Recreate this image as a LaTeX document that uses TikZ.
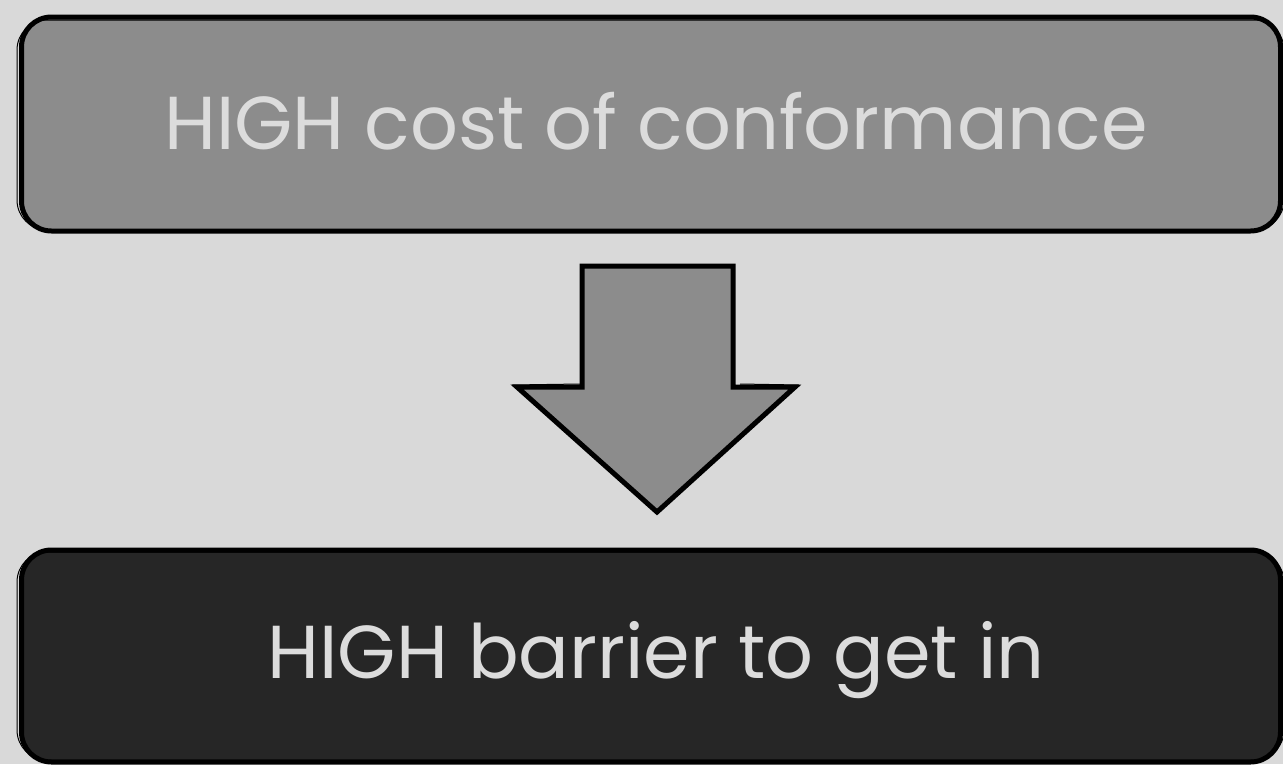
\documentclass[tikz,border=0pt]{standalone}
\usepackage{fontspec}
\setmainfont{Poppins}
\definecolor{bgc}{HTML}{D9D9D9}
\definecolor{topfill}{HTML}{8C8C8C}
\definecolor{botfill}{HTML}{262626}
\definecolor{txt}{HTML}{DCDCDC}
\begin{document}
\begin{tikzpicture}[x=1pt,y=-1pt,
  box/.style={draw=black, line width=5pt, rounded corners=30pt, minimum width=1259pt, inner sep=0pt, text=txt, font=\fontsize{75}{85}\selectfont},
  sketch/.style={draw=black, line width=1pt, rounded corners=30pt},
  blockarrow/.style={draw=black, line width=5pt, fill=topfill, line join=miter}]
\fill[bgc] (0,0) rectangle (1283,764);
\useasboundingbox (0,0) rectangle (1283,764);
% top box
\node[box, fill=topfill, minimum height=214pt] (top) at (651,124) {};
\node[text=txt, font=\fontsize{75}{85}\selectfont] (toptext) at (656,121) {HIGH cost of conformance};
\draw[sketch] (17,20) rectangle (1284,230);
% arrow
\coordinate (a1) at (582,266);
\coordinate (a2) at (733,266);
\coordinate (a3) at (733,387);
\coordinate (a4) at (795,387);
\coordinate (tip) at (657,512);
\coordinate (a6) at (517,387);
\coordinate (a7) at (582,387);
\draw[blockarrow] (a1) -- (a2) -- (a3) -- (a4) -- (tip) -- (a6) -- (a7) -- cycle;
\draw[black, line width=1pt] (512,385) -- (580,384);
\draw[black, line width=1pt] (799,385) -- (740,384);
% bottom box
\node[box, fill=botfill, minimum height=212pt] (bottom) at (651,656) {};
\node[text=txt, font=\fontsize{75}{85}\selectfont] (bottext) at (656,660) {HIGH barrier to get in};
\draw[sketch] (17,552) rectangle (1284,760);
\end{tikzpicture}
\end{document}
